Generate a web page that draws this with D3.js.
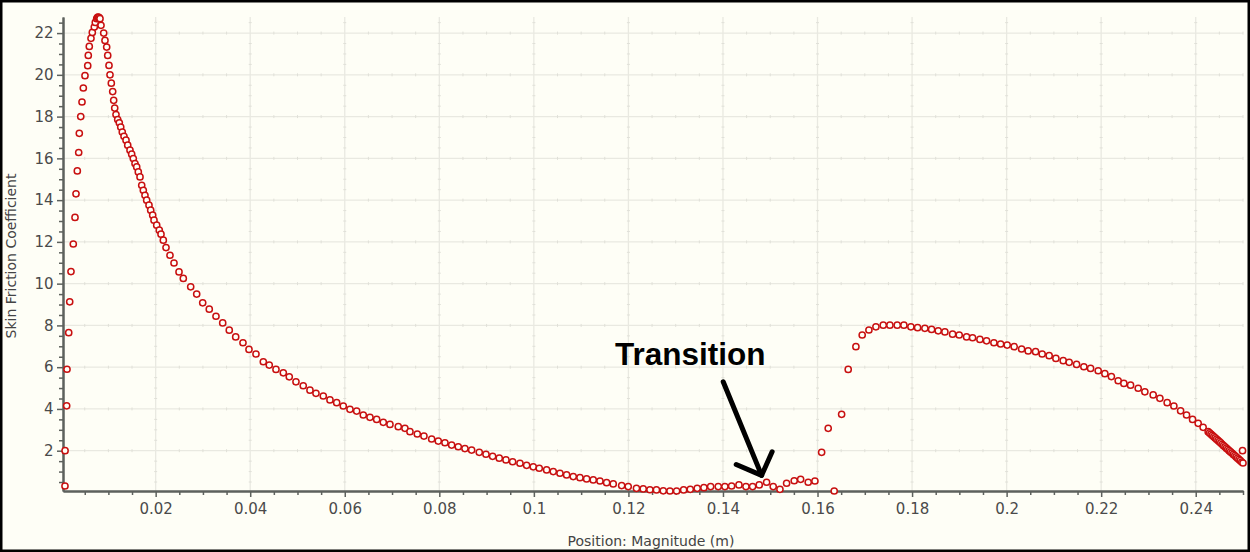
<!DOCTYPE html>
<html>
<head>
<meta charset="utf-8">
<script src="https://cdn.jsdelivr.net/npm/d3@7"></script>
<style>
  html, body { margin: 0; padding: 0; background: #fefef6; }
  svg { display: block; }
</style>
</head>
<body>
<svg id="chart" width="1250" height="552"></svg>
<script>
// Wall position along the surface (m)
const positionM = [
  0.00082, 0.00084, 0.00118, 0.00125, 0.00161, 0.00182, 0.00209, 0.00258, 0.00294, 0.00315,
  0.00343, 0.00372, 0.00385, 0.00415, 0.00442, 0.00470, 0.00505, 0.00563, 0.00575, 0.00596,
  0.00632, 0.00660, 0.00702, 0.00723, 0.00753, 0.00770, 0.00787, 0.00805, 0.00823, 0.00844,
  0.00901, 0.00928, 0.00964, 0.00986, 0.01013, 0.01034, 0.01062, 0.01091, 0.01112, 0.01134,
  0.01161, 0.01197, 0.01231, 0.01261, 0.01294, 0.01330, 0.01373, 0.01409, 0.01457, 0.01493,
  0.01527, 0.01563, 0.01599, 0.01633, 0.01669, 0.01705, 0.01739, 0.01774, 0.01810, 0.01859,
  0.01895, 0.01937, 0.01965, 0.02022, 0.02077, 0.02113, 0.02162, 0.02219, 0.02303, 0.02388,
  0.02494, 0.02585, 0.02741, 0.02868, 0.02995, 0.03134, 0.03276, 0.03418, 0.03557, 0.03693,
  0.03847, 0.03974, 0.04122, 0.04277, 0.04403, 0.04545, 0.04700, 0.04826, 0.04968, 0.05122,
  0.05264, 0.05391, 0.05546, 0.05687, 0.05829, 0.05969, 0.06110, 0.06252, 0.06392, 0.06533,
  0.06675, 0.06815, 0.06956, 0.07132, 0.07273, 0.07379, 0.07534, 0.07675, 0.07838, 0.07978,
  0.08119, 0.08261, 0.08401, 0.08542, 0.08684, 0.08845, 0.08987, 0.09128, 0.09268, 0.09410,
  0.09551, 0.09706, 0.09847, 0.09987, 0.10114, 0.10270, 0.10410, 0.10552, 0.10693, 0.10833,
  0.10975, 0.11116, 0.11256, 0.11398, 0.11539, 0.11679, 0.11857, 0.11996, 0.12170, 0.12313,
  0.12455, 0.12593, 0.12737, 0.12878, 0.13020, 0.13168, 0.13308, 0.13455, 0.13597, 0.13739,
  0.13900, 0.14041, 0.14183, 0.14338, 0.14486, 0.14627, 0.14767, 0.14923, 0.15063, 0.15205,
  0.15346, 0.15507, 0.15643, 0.15803, 0.15945, 0.16087, 0.16226, 0.16353, 0.16510, 0.16649,
  0.16812, 0.16945, 0.17087, 0.17235, 0.17390, 0.17531, 0.17686, 0.17827, 0.17975, 0.18117,
  0.18271, 0.18413, 0.18553, 0.18694, 0.18857, 0.18997, 0.19153, 0.19280, 0.19435, 0.19576,
  0.19731, 0.19873, 0.20012, 0.20160, 0.20317, 0.20456, 0.20613, 0.20752, 0.20900, 0.21042,
  0.21197, 0.21323, 0.21480, 0.21634, 0.21776, 0.21937, 0.22078, 0.22216, 0.22360, 0.22480,
  0.22622, 0.22783, 0.22924, 0.23100, 0.23242, 0.23396, 0.23538, 0.23680, 0.23806, 0.23933,
  0.24052, 0.24157, 0.24263, 0.24293, 0.24323, 0.24352, 0.24382, 0.24411, 0.24441, 0.24471,
  0.24500, 0.24530, 0.24559, 0.24589, 0.24619, 0.24648, 0.24678, 0.24707, 0.24737, 0.24767,
  0.24796, 0.24826, 0.24855, 0.24885, 0.24915, 0.24944, 0.24974, 0.24990, 0.25000
];

// Skin friction coefficient at each position
const skinFriction = [
  0.31, 2.00, 4.15, 5.90, 7.65, 9.13, 10.58, 11.90, 13.17, 14.30,
  15.40, 16.28, 17.20, 18.00, 18.70, 19.37, 19.96, 20.44, 20.93, 21.36,
  21.75, 22.03, 22.29, 22.51, 22.69, 22.75, 22.77, 22.74, 22.69, 22.37,
  22.00, 21.65, 21.33, 20.93, 20.45, 20.00, 19.60, 19.20, 18.78, 18.41,
  18.10, 17.86, 17.70, 17.50, 17.26, 17.06, 16.87, 16.63, 16.39, 16.20,
  15.99, 15.75, 15.59, 15.35, 15.11, 14.71, 14.47, 14.23, 14.00, 13.76,
  13.52, 13.28, 13.04, 12.80, 12.56, 12.37, 12.08, 11.73, 11.36, 10.99,
  10.56, 10.25, 9.85, 9.50, 9.08, 8.78, 8.44, 8.12, 7.77, 7.45,
  7.17, 6.85, 6.63, 6.26, 6.10, 5.89, 5.73, 5.54, 5.30, 5.11,
  4.90, 4.75, 4.62, 4.43, 4.30, 4.14, 3.98, 3.90, 3.71, 3.60,
  3.50, 3.36, 3.26, 3.15, 3.07, 2.91, 2.80, 2.70, 2.56, 2.46,
  2.38, 2.27, 2.19, 2.10, 2.03, 1.92, 1.83, 1.73, 1.64, 1.56,
  1.47, 1.40, 1.30, 1.23, 1.16, 1.08, 1.00, 0.92, 0.84, 0.76,
  0.71, 0.65, 0.60, 0.55, 0.47, 0.41, 0.33, 0.28, 0.20, 0.17,
  0.13, 0.12, 0.08, 0.07, 0.07, 0.12, 0.15, 0.20, 0.23, 0.28,
  0.28, 0.28, 0.31, 0.36, 0.28, 0.28, 0.36, 0.49, 0.28, 0.15,
  0.44, 0.56, 0.63, 0.49, 0.55, 1.92, 3.07, 0.07, 3.74, 5.89,
  6.98, 7.54, 7.78, 7.93, 8.01, 8.01, 8.01, 8.01, 7.93, 7.89,
  7.86, 7.81, 7.74, 7.69, 7.58, 7.54, 7.45, 7.41, 7.33, 7.26,
  7.17, 7.11, 7.06, 6.98, 6.87, 6.78, 6.74, 6.63, 6.55, 6.42,
  6.31, 6.23, 6.13, 6.02, 5.94, 5.83, 5.69, 5.55, 5.35, 5.22,
  5.14, 4.99, 4.82, 4.67, 4.51, 4.30, 4.14, 3.91, 3.71, 3.50,
  3.31, 3.12, 2.91, 2.85, 2.79, 2.73, 2.67, 2.61, 2.55, 2.49,
  2.43, 2.37, 2.31, 2.24, 2.19, 2.12, 2.07, 2.00, 1.94, 1.89,
  1.82, 1.77, 1.70, 1.64, 1.58, 1.52, 1.46, 2.00, 1.41
];

// Axis ticks
const xTickValues = [0.02, 0.04, 0.06, 0.08, 0.1, 0.12, 0.14, 0.16, 0.18, 0.2, 0.22, 0.24];
const xTickLabels = ["0.02", "0.04", "0.06", "0.08", "0.1", "0.12", "0.14", "0.16", "0.18", "0.2", "0.22", "0.24"];
const xMinorStep = 0.005;
const yTickValues = [2, 4, 6, 8, 10, 12, 14, 16, 18, 20, 22];
const yMinorStep = 0.5;

// Annotation: label anchor, arrow shaft and arrow head in data units
const noteText = "Transition";
const noteAnchor = [0.11715, 6.10];
const arrowShaft = [[0.14005, 5.30], [0.14818, 0.82]];
const arrowHead = [[0.14280, 1.34], [0.14818, 0.82], [0.15040, 1.95]];

const xTitle = "Position: Magnitude (m)";
const yTitle = "Skin Friction Coefficient";

const points = positionM.map((x, i) => ({ x, y: skinFriction[i] }));

const W = 1250, H = 552;
const plot = { left: 63, right: 1243, top: 17, bottom: 491 };

const svg = d3.select("#chart");

// Page background
svg.append("rect").attr("x", 0).attr("y", 0).attr("width", W).attr("height", H).attr("fill", "#fefef6");

const xMin = 0.0004;
const x = d3.scaleLinear()
  .domain([xMin, d3.max(positionM)])
  .range([plot.left, plot.right]);
const y = d3.scaleLinear()
  .domain(d3.extent(skinFriction))
  .range([plot.bottom, plot.top]);

const xMinor = d3.range(xMinorStep, 0.25 + 1e-9, xMinorStep).filter(v => !xTickValues.some(t => Math.abs(t - v) < 1e-9));
const yMinor = d3.range(yMinorStep, 22.75, yMinorStep).filter(v => !yTickValues.includes(v));

// Major grid lines
const grid = svg.append("g").attr("class", "grid");
grid.selectAll("line.vx").data(xTickValues).join("line")
  .attr("x1", d => x(d)).attr("x2", d => x(d))
  .attr("y1", plot.top).attr("y2", plot.bottom)
  .attr("stroke", "#e9e9e1").attr("stroke-width", 1.3);
grid.selectAll("line.hy").data(yTickValues).join("line")
  .attr("x1", plot.left).attr("x2", plot.right)
  .attr("y1", d => y(d)).attr("y2", d => y(d))
  .attr("stroke", "#e9e9e1").attr("stroke-width", 1.3);

// Small minor marks sitting on the major grid lines
const marks = [];
xTickValues.forEach(xv => yMinor.forEach(yv => marks.push({ cx: x(xv), cy: y(yv), h: true })));
yTickValues.forEach(yv => xMinor.forEach(xv => marks.push({ cx: x(xv), cy: y(yv), h: false })));
grid.selectAll("line.mk").data(marks).join("line")
  .attr("x1", d => d.h ? d.cx - 1.5 : d.cx).attr("x2", d => d.h ? d.cx + 1.5 : d.cx)
  .attr("y1", d => d.h ? d.cy : d.cy - 1.5).attr("y2", d => d.h ? d.cy : d.cy + 1.5)
  .attr("stroke", "#e0e0d8").attr("stroke-width", 1);

// Axes
const axisColor = "#5d615d";
const labelColor = "#4a4a4a";

const xAxisMinor = d3.axisBottom(x).tickValues(xMinor).tickSize(4).tickSizeOuter(0).tickFormat("");
const xAxis = d3.axisBottom(x).tickValues(xTickValues).tickSize(6).tickSizeOuter(0).tickPadding(6)
  .tickFormat((d, i) => xTickLabels[i]);
const yAxisMinor = d3.axisLeft(y).tickValues(yMinor).tickSize(4).tickSizeOuter(0).tickFormat("");
const yAxis = d3.axisLeft(y).tickValues(yTickValues).tickSize(6).tickSizeOuter(0).tickPadding(3.5)
  .tickFormat(d3.format("d"));

function styleAxis(g) {
  g.select(".domain").attr("stroke", axisColor).attr("stroke-width", 2);
  g.selectAll(".tick line").attr("stroke", axisColor).attr("stroke-width", 1.5);
  g.selectAll(".tick text")
    .attr("fill", labelColor)
    .style("font-family", "'DejaVu Sans', sans-serif")
    .style("font-size", "15px");
}

svg.append("g").attr("transform", `translate(0,${plot.bottom})`).call(xAxisMinor).call(styleAxis);
svg.append("g").attr("transform", `translate(0,${plot.bottom})`).call(xAxis).call(styleAxis);
svg.append("g").attr("transform", `translate(${plot.left},0)`).call(yAxisMinor).call(styleAxis);
svg.append("g").attr("transform", `translate(${plot.left},0)`).call(yAxis).call(styleAxis);

// Axis titles
svg.append("text")
  .attr("x", 651).attr("y", 546)
  .attr("text-anchor", "middle")
  .attr("fill", "#444")
  .style("font-family", "'DejaVu Sans', sans-serif")
  .style("font-size", "14px")
  .text(xTitle);

svg.append("text")
  .attr("transform", `translate(16,${(plot.top + plot.bottom) / 2 + 2}) rotate(-90)`)
  .attr("text-anchor", "middle")
  .attr("fill", "#444")
  .style("font-family", "'DejaVu Sans', sans-serif")
  .style("font-size", "14px")
  .text(yTitle);

// Data markers: hollow circles
svg.append("g").attr("class", "points")
  .selectAll("circle").data(points).join("circle")
  .attr("cx", d => x(d.x))
  .attr("cy", d => y(d.y))
  .attr("r", 3.1)
  .attr("fill", "#fffff8")
  .attr("stroke", "#c81010")
  .attr("stroke-width", 1.5);

// Annotation
svg.append("text")
  .attr("x", x(noteAnchor[0])).attr("y", y(noteAnchor[1]))
  .attr("fill", "#000")
  .style("font-family", "'Liberation Sans', Arial, sans-serif")
  .style("font-weight", "bold")
  .style("font-size", "31.5px")
  .text(noteText);

const line = d3.line().x(d => x(d[0])).y(d => y(d[1]));
svg.append("path").attr("d", line(arrowShaft))
  .attr("fill", "none").attr("stroke", "#000").attr("stroke-width", 5).attr("stroke-linecap", "round");
svg.append("path").attr("d", line(arrowHead))
  .attr("fill", "none").attr("stroke", "#000").attr("stroke-width", 5)
  .attr("stroke-linecap", "round").attr("stroke-linejoin", "round");

// Outer frame
svg.append("rect").attr("x", 1.25).attr("y", 1.25).attr("width", W - 2.5).attr("height", H - 2.5)
  .attr("fill", "none").attr("stroke", "#000").attr("stroke-width", 2.5);
</script>
</body>
</html>
